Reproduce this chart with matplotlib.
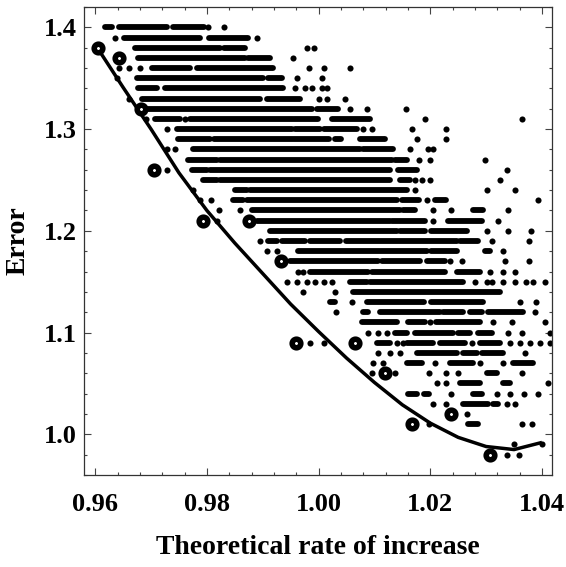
import matplotlib
matplotlib.use("Agg")
import matplotlib.pyplot as plt
from matplotlib.ticker import MultipleLocator, FormatStrFormatter

# ---- scatter rows: each level of Error holds runs of merged dots and single dots ----
rows_y = [1.40, 1.39, 1.38, 1.37, 1.36, 1.35, 1.34, 1.33, 1.32, 1.31, 1.30,
          1.29, 1.28, 1.27, 1.26, 1.25, 1.24, 1.23, 1.22, 1.21, 1.20,
          1.19, 1.18, 1.17, 1.16, 1.15, 1.14, 1.13, 1.12, 1.11, 1.10,
          1.09, 1.08, 1.07, 1.06, 1.05, 1.04, 1.03, 1.02, 1.01, 1.00,
          0.99, 0.98]

rows_runs = [
    [(0.9618, 0.9630), (0.9642, 0.9728), (0.9740, 0.9794)],
    [(0.9651, 0.9788), (0.9803, 0.9874)],
    [(0.9672, 0.9824), (0.9830, 0.9868)],
    [(0.9677, 0.9868), (0.9874, 0.9913)],
    [(0.9701, 0.9770), (0.9782, 0.9919)],
    [(0.9675, 0.9901), (0.9910, 0.9934)],
    [(0.9677, 0.9710), (0.9725, 0.9937)],
    [(0.9684, 0.9895), (0.9907, 0.9967)],
    [(0.9692, 0.9988), (0.9997, 1.0035)],
    [(0.9707, 0.9752), (0.9770, 0.9999), (1.0024, 1.0092)],
    [(0.9746, 0.9952), (0.9958, 1.0003), (1.0009, 1.0068)],
    [(0.9749, 0.9806), (0.9812, 1.0018), (1.0030, 1.0041), (1.0074, 1.0119)],
    [(0.9776, 1.0074), (1.0080, 1.0133)],
    [(0.9767, 0.9818), (0.9824, 1.0131), (1.0136, 1.0158)],
    [(0.9773, 0.9800), (0.9806, 1.0128), (1.0143, 1.0176)],
    [(0.9793, 0.9818), (0.9824, 1.0128), (1.0146, 1.0164)],
    [(0.9851, 0.9872), (0.9878, 1.0158)],
    [(0.9847, 0.9865), (0.9872, 1.0140), (1.0149, 1.0179), (1.0209, 1.0229)],
    [(0.9880, 1.0146), (1.0151, 1.0173), (1.0277, 1.0295)],
    [(0.9889, 1.0128), (1.0131, 1.0191), (1.0232, 1.0292)],
    [(0.9913, 1.0140), (1.0146, 1.0191), (1.0202, 1.0265)],
    [(0.9910, 0.9926), (0.9934, 0.9976), (0.9985, 1.0038), (1.0050, 1.0247), (1.0253, 1.0286)],
    [(0.9963, 1.0194), (1.0202, 1.0247), (1.0298, 1.0307)],
    [(0.9949, 1.0107), (1.0113, 1.0182), (1.0194, 1.0226)],
    [(0.9985, 1.0089), (1.0095, 1.0226), (1.0247, 1.0289)],
    [(1.0056, 1.0086), (1.0092, 1.0259)],
    [(1.0062, 1.0325)],
    [(1.0020, 1.0030), (1.0086, 1.0188), (1.0202, 1.0295)],
    [(1.0080, 1.0089), (1.0110, 1.0217), (1.0223, 1.0259), (1.0271, 1.0292), (1.0303, 1.0366)],
    [(1.0077, 1.0140), (1.0160, 1.0191), (1.0211, 1.0289)],
    [(1.0137, 1.0158), (1.0173, 1.0241), (1.0250, 1.0271), (1.0286, 1.0310)],
    [(1.0104, 1.0128), (1.0158, 1.0205), (1.0217, 1.0262), (1.0289, 1.0325)],
    [(1.0176, 1.0247), (1.0259, 1.0283), (1.0292, 1.0331)],
    [(1.0158, 1.0185), (1.0235, 1.0277), (1.0349, 1.0384)],
    [(1.0301, 1.0319)],
    [(1.0253, 1.0289), (1.0331, 1.0343)],
    [(1.0161, 1.0176), (1.0188, 1.0197), (1.0277, 1.0292)],
    [(1.0259, 1.0304), (1.0313, 1.0322)],
    [],
    [(1.0268, 1.0286)],
    [],
    [],
    [],
]

rows_dots = [
    [0.9802, 0.9830],
    [0.9636, 0.9889],
    [0.9979, 0.9991],
    [0.9955],
    [0.9642, 0.9660, 0.9681, 0.9982, 1.0009, 1.0056],
    [0.9639, 0.9962, 1.0006],
    [0.9958, 0.9975, 0.9988, 1.0006, 1.0015],
    [0.9661, 1.0000, 1.0015, 1.0047],
    [1.0056, 1.0086, 1.0157],
    [0.9691, 0.9761, 1.0191, 1.0364],
    [0.9728, 1.0080, 1.0095, 1.0167, 1.0229],
    [1.0176, 1.0229],
    [0.9728, 0.9743, 1.0164, 1.0196, 1.0205],
    [1.0179, 1.0200, 1.0298],
    [0.9728, 1.0337],
    [1.0173, 1.0185, 1.0200, 1.0325],
    [0.9776, 1.0173, 1.0301, 1.0352],
    [0.9788, 0.9808, 1.0194, 1.0393],
    [0.9822, 0.9860, 1.0205, 1.0238, 1.0340],
    [0.9818, 1.0205, 1.0322],
    [1.0301, 1.0340, 1.0381],
    [0.9895, 1.0310, 1.0376],
    [0.9907, 0.9925, 1.0331],
    [1.0235, 1.0256, 1.0334, 1.0376],
    [0.9964, 0.9973, 1.0307, 1.0331, 1.0352],
    [0.9943, 0.9961, 0.9979, 0.9994, 1.0009, 1.0024, 1.0280, 1.0301, 1.0310,
     1.0331, 1.0352, 1.0372, 1.0384, 1.0405],
    [0.9973, 1.0030],
    [1.0059, 1.0361, 1.0390],
    [1.0031, 1.0387],
    [1.0200, 1.0313, 1.0346, 1.0405],
    [1.0089, 1.0107, 1.0122, 1.0340, 1.0364, 1.0414],
    [0.9985, 1.0009, 1.0140, 1.0152, 1.0274, 1.0343, 1.0361, 1.0379, 1.0396, 1.0414],
    [1.0107, 1.0128, 1.0146, 1.0370],
    [1.0098, 1.0116, 1.0209, 1.0289, 1.0331],
    [1.0095, 1.0137, 1.0197, 1.0229, 1.0250, 1.0364],
    [1.0212, 1.0229, 1.0411],
    [1.0238, 1.0319, 1.0343, 1.0367, 1.0393],
    [1.0205, 1.0229, 1.0337, 1.0352],
    [1.0265],
    [1.0197, 1.0364, 1.0382],
    [],
    [1.0350, 1.0400],
    [1.0337, 1.0359],
]

# ---- highlighted (open) points ----
circle_x = [0.9605, 0.9643, 0.9682, 0.9706, 0.9793, 0.9876, 0.9933,
            0.9960, 1.0066, 1.0119, 1.0167, 1.0237, 1.0307]
circle_y = [1.38, 1.37, 1.32, 1.26, 1.21, 1.21, 1.17,
            1.09, 1.09, 1.06, 1.01, 1.02, 0.98]

# ---- fitted curve ----
curve_x = [0.9605, 0.965, 0.970, 0.975, 0.980, 0.985, 0.990, 0.995, 1.000,
           1.005, 1.010, 1.015, 1.020, 1.025, 1.030, 1.035, 1.040]
curve_y = [1.379, 1.341, 1.300, 1.257, 1.220, 1.188, 1.158, 1.128, 1.101,
           1.075, 1.051, 1.029, 1.011, 0.997, 0.988, 0.985, 0.992]

x_ticks = [0.96, 0.98, 1.00, 1.02, 1.04]
y_ticks = [1.0, 1.1, 1.2, 1.3, 1.4]

plt.rcParams['font.family'] = ['Liberation Serif', 'DejaVu Serif']
plt.rcParams['font.weight'] = 'bold'

fig = plt.figure(figsize=(5.66, 5.67), dpi=100)
ax = fig.add_axes([84 / 566, 92 / 567, 468 / 566, 468 / 567])

# runs of merged dots
seg_y, seg_x0, seg_x1, dot_x, dot_y = [], [], [], [], []
for y, runs, dots in zip(rows_y, rows_runs, rows_dots):
    for a, b in runs:
        seg_y.append(y); seg_x0.append(a); seg_x1.append(b)
    for d in dots:
        dot_x.append(d); dot_y.append(y)

lc = ax.hlines(seg_y, seg_x0, seg_x1, colors='black', linewidth=4.2)
lc.set_capstyle('round')
ax.plot(dot_x, dot_y, 'o', ms=4.4, color='black', mew=0)

ax.plot(curve_x, curve_y, color='black', lw=2.5, solid_capstyle='butt', zorder=3)
ax.plot(circle_x, circle_y, 'o', ms=6.2, mfc='white', mec='black', mew=4.0, zorder=4)

ax.set_xlim(0.958, 1.0418)
ax.set_ylim(0.96, 1.42)
ax.set_xticks(x_ticks)
ax.set_yticks(y_ticks)
ax.xaxis.set_major_formatter(FormatStrFormatter('%.2f'))
ax.yaxis.set_major_formatter(FormatStrFormatter('%.1f'))
ax.xaxis.set_minor_locator(MultipleLocator(0.004))
ax.yaxis.set_minor_locator(MultipleLocator(0.02))
ax.tick_params(which='both', direction='in', top=True, right=True, width=0.8, color='#444444')
ax.tick_params(which='major', length=5, labelsize=19)
ax.tick_params(which='minor', length=2.5)
ax.tick_params(axis='x', which='major', pad=13)
ax.tick_params(axis='y', which='major', pad=5)
for s in ax.spines.values():
    s.set_linewidth(0.9)
    s.set_color('#333333')

ax.set_xlabel('Theoretical rate of increase', fontsize=20, fontweight='bold', labelpad=14)
ax.set_ylabel('Error', fontsize=20, fontweight='bold', labelpad=10)

fig.savefig('out.png', dpi=100)
